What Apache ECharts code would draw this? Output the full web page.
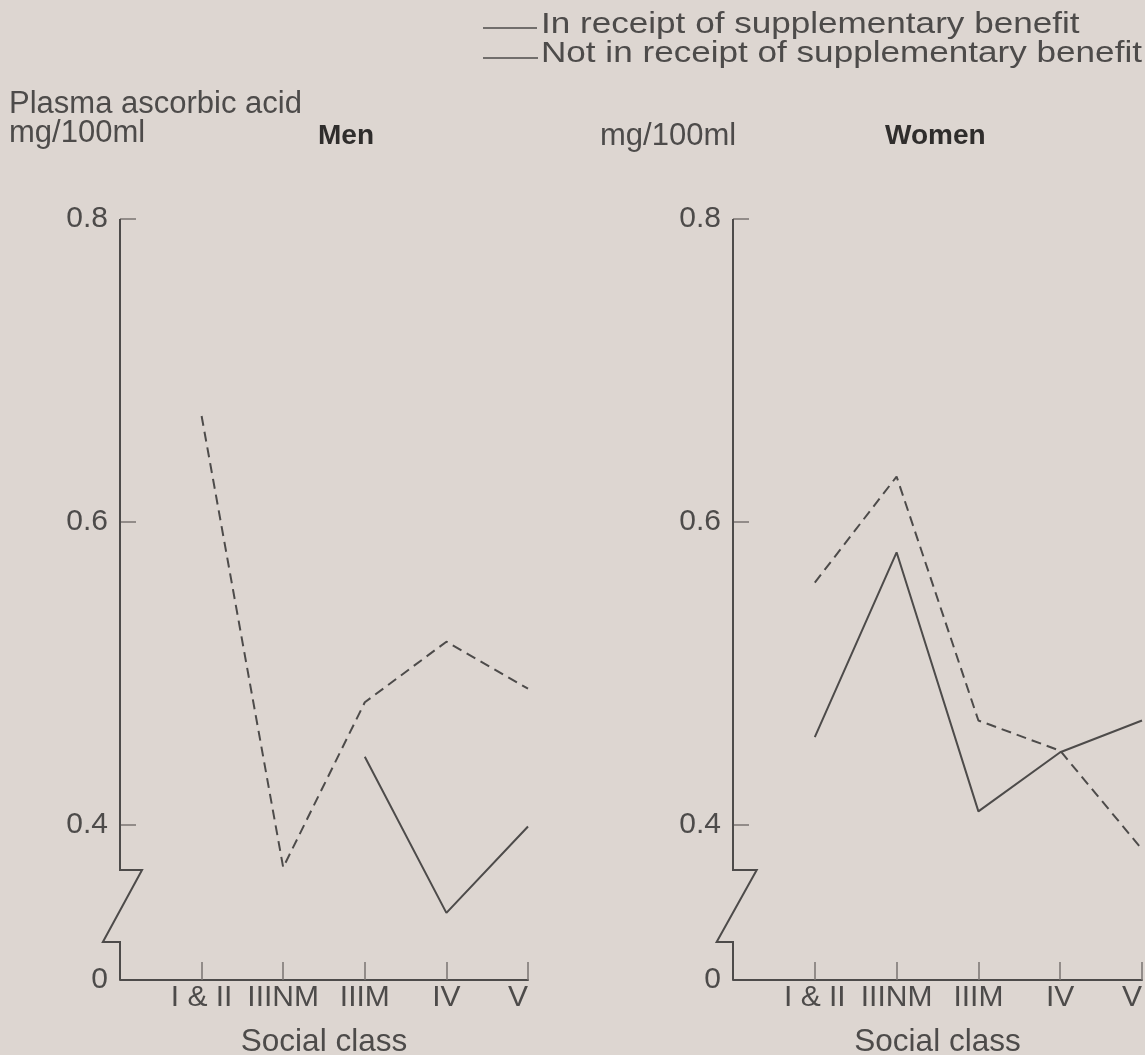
<!DOCTYPE html>
<html>
<head>
<meta charset="utf-8">
<script src="https://cdn.jsdelivr.net/npm/echarts@6/dist/echarts.min.js"></script>
<style>
html,body{margin:0;padding:0;background:#ddd6d1;}
#chart{width:1145px;height:1055px;}
</style>
</head>
<body>
<div id="chart"></div>
<script>
// ---- data ----
const categories = ['I & II', 'IIINM', 'IIIM', 'IV', 'V'];
const yTickValues = [0.4, 0.6, 0.8];
const menNotInReceipt = [0.67, 0.372, 0.481, 0.521, 0.49];
const menInReceipt = [null, null, 0.445, 0.342, 0.399];
const womenNotInReceipt = [0.56, 0.63, 0.469, 0.449, 0.384];
const womenInReceipt = [0.458, 0.58, 0.409, 0.448, 0.469];
const legendNames = ['In receipt of supplementary benefit', 'Not in receipt of supplementary benefit'];
const panelTitles = ['Men', 'Women'];
const yAxisTitle = ['Plasma ascorbic acid', 'mg/100ml'];
const xAxisTitle = 'Social class';

// ---- style ----
const ink = '#4d4b4a';
const dark = '#2f2d2c';
const tickInk = '#7a7471';
const font = '"Liberation Sans", Arial, Helvetica, sans-serif';
const fs = 30;

// broken-axis geometry (value space)
const yBottom = 0.2977;     // value position where the "0" sits after the break
const breakTop = 0.3703;
const breakBottom = 0.3228;

function toPairs(arr) {
  const out = [];
  arr.forEach((v, i) => { if (v !== null) out.push([i + 1, v]); });
  return out;
}

function xAxisFor(g) {
  return {
    type: 'value', gridIndex: g, min: 0, max: 5,
    axisLine: { show: true, lineStyle: { color: ink, width: 2 } },
    axisTick: { show: true, inside: true, length: 18, customValues: [1, 2, 3, 4, 5],
      lineStyle: { color: tickInk, width: 1.5 } },
    axisLabel: { customValues: [1, 2, 3, 4, 5], formatter: v => categories[Math.round(v) - 1],
      color: ink, fontSize: fs, fontFamily: font, margin: 3, alignMaxLabel: 'right' },
    splitLine: { show: false },
    name: xAxisTitle, nameLocation: 'middle', nameGap: 46,
    nameTextStyle: { color: ink, fontSize: 31.5, fontFamily: font }
  };
}

function yAxisFor(g) {
  return {
    type: 'value', gridIndex: g, min: yBottom, max: 0.8,
    axisLine: { show: false },
    axisTick: { show: true, inside: true, length: 16, customValues: yTickValues,
      lineStyle: { color: tickInk, width: 1.5 } },
    axisLabel: { customValues: [yBottom].concat(yTickValues),
      formatter: v => (v < 0.35 ? '0' : v.toFixed(1)),
      color: ink, fontSize: fs, fontFamily: font, margin: 12 },
    splitLine: { show: false }
  };
}

function dataSeries(g, name, values, dashed) {
  return {
    type: 'line', name: name, xAxisIndex: g, yAxisIndex: g,
    symbol: 'none', z: 3, clip: false,
    lineStyle: { color: ink, width: 2, type: dashed ? [10, 6] : 'solid' },
    data: toPairs(values)
  };
}

const chart = echarts.init(document.getElementById('chart'), null, { renderer: 'canvas' });
chart.setOption({
  backgroundColor: '#ddd6d1',
  animation: false,
  grid: [
    { left: 120, top: 219, width: 408, height: 761, outerBoundsMode: 'none', containLabel: false },
    { left: 733, top: 219, width: 409, height: 761, outerBoundsMode: 'none', containLabel: false }
  ],
  xAxis: [xAxisFor(0), xAxisFor(1)],
  yAxis: [yAxisFor(0), yAxisFor(1)],
  series: [
    dataSeries(0, legendNames[1], menNotInReceipt, true),
    dataSeries(0, legendNames[0], menInReceipt, false),
    dataSeries(1, legendNames[1], womenNotInReceipt, true),
    dataSeries(1, legendNames[0], womenInReceipt, false)
  ]
});

// broken y-axis line with zigzag, placed through the axis scales
function axisPath(g, dxRight, dxLeft) {
  const vals = [[0, 0.8], [0, breakTop], [dxRight, breakTop], [dxLeft, breakBottom], [0, breakBottom], [0, yBottom]];
  const pts = vals.map(p => chart.convertToPixel({ gridIndex: g }, p));
  return { type: 'polyline', z: 10, shape: { points: pts }, style: { stroke: ink, lineWidth: 2, fill: null } };
}

function txt(x, y, text, size, opts) {
  opts = opts || {};
  return { type: 'text', x: x, y: y, scaleX: opts.scaleX || 1,
    style: { text: text, fontSize: size, fontFamily: font, fontWeight: opts.bold ? 'bold' : 'normal',
      fill: opts.bold ? dark : ink, align: 'left', verticalAlign: 'middle' } };
}

chart.setOption({
  graphic: [
    axisPath(0, 0.27, -0.21),
    axisPath(1, 0.29, -0.2),
    { type: 'line', shape: { x1: 483, y1: 28, x2: 537, y2: 28 }, style: { stroke: ink, lineWidth: 1.5 } },
    { type: 'line', shape: { x1: 483, y1: 58, x2: 538, y2: 58 }, style: { stroke: ink, lineWidth: 1.5 } },
    txt(541, 25, legendNames[0], 30, { scaleX: 1.17 }),
    txt(541, 54, legendNames[1], 30, { scaleX: 1.17 }),
    txt(9, 104, yAxisTitle[0], 31),
    txt(9, 133, yAxisTitle[1], 31),
    txt(318, 136, panelTitles[0], 28, { bold: true }),
    txt(600, 136, yAxisTitle[1], 31),
    txt(885, 136, panelTitles[1], 28, { bold: true })
  ]
});
</script>
</body>
</html>
